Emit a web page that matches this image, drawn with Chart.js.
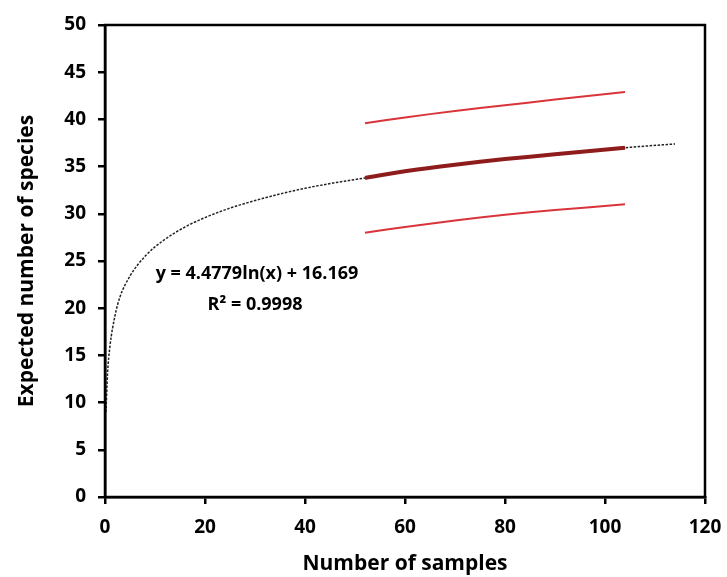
<!DOCTYPE html>
<html>
<head>
<meta charset="utf-8">
<script src="https://cdn.jsdelivr.net/npm/chart.js@4/dist/chart.umd.min.js"></script>
<style>
html,body{margin:0;padding:0;background:#fff;}
#wrap{width:727px;height:577px;position:relative;}
</style>
</head>
<body>
<div id="wrap"><canvas id="c" width="727" height="577"></canvas></div>
<script>
// Trend line (logarithmic fit)
const trendX = [0.2, 0.5, 1, 2, 3, 5, 8, 12, 16, 20, 25, 30, 35, 40, 45, 52, 60, 70, 80, 90, 104, 114];
const trendY = [9.0, 13.0, 16.0, 19.2, 21.2, 23.4, 25.5, 27.3, 28.6, 29.6, 30.6, 31.4, 32.1, 32.7, 33.2, 33.8, 34.5, 35.2, 35.8, 36.3, 37.0, 37.4];

// Extrapolated range (x = 52..104)
const extX = [52, 60, 70, 80, 90, 104];
const upperY = [39.6, 40.2, 40.9, 41.5, 42.1, 42.9];
const meanY  = [33.8, 34.5, 35.2, 35.8, 36.3, 37.0];
const lowerY = [28.0, 28.6, 29.3, 29.9, 30.4, 31.0];

const xTicks = [0, 20, 40, 60, 80, 100, 120];
const yTicks = [0, 5, 10, 15, 20, 25, 30, 35, 40, 45, 50];

const eqText = 'y = 4.4779ln(x) + 16.169';
const r2Text = 'R² = 0.9998';

const pts = (xs, ys) => xs.map((x, i) => ({x: x, y: ys[i]}));

const FONT = '"Open Sans", Lato, sans-serif';

const framePlugin = {
  id: 'frame',
  afterDatasetsDraw(chart) {
    const {ctx, chartArea: a} = chart;
    ctx.save();
    ctx.strokeStyle = '#000';
    ctx.lineWidth = 2.5;
    ctx.strokeRect(a.left, a.top, a.right - a.left, a.bottom - a.top);
    // equation text
    const xs = chart.scales.x, ys = chart.scales.y;
    ctx.fillStyle = '#000';
    ctx.font = 'bold 18px ' + FONT;
    ctx.textAlign = 'center';
    ctx.textBaseline = 'middle';
    ctx.fillText(eqText, xs.getPixelForValue(30.4), ys.getPixelForValue(23.6));
    ctx.fillText(r2Text, xs.getPixelForValue(30.0), ys.getPixelForValue(20.4));
    ctx.restore();
  }
};

new Chart(document.getElementById('c'), {
  type: 'scatter',
  data: {
    datasets: [
      {
        data: pts(extX, upperY), showLine: true, borderColor: '#d9343a', borderWidth: 2,
        pointRadius: 0, fill: false, tension: 0.3
      },
      {
        data: pts(extX, lowerY), showLine: true, borderColor: '#d9343a', borderWidth: 2,
        pointRadius: 0, fill: false, tension: 0.3
      },
      {
        data: pts(extX, meanY), showLine: true, borderColor: '#8e1c1c', borderWidth: 4,
        pointRadius: 0, fill: false, tension: 0.3
      },
      {
        data: pts(trendX, trendY), showLine: true, borderColor: '#222', borderWidth: 1.5,
        borderDash: [2.5, 1.5], pointRadius: 0, fill: false, cubicInterpolationMode: 'monotone'
      }
    ]
  },
  options: {
    responsive: false,
    animation: false,
    devicePixelRatio: 1,
    layout: {padding: {top: 25, right: 22, left: 0, bottom: 0}},
    plugins: {legend: {display: false}, tooltip: {enabled: false}},
    scales: {
      x: {
        type: 'linear', min: 0, max: 120,
        afterBuildTicks: s => { s.ticks = xTicks.map(v => ({value: v})); },
        afterFit: s => { s.height = 80; s.paddingRight = 0; s.paddingLeft = 0; },
        grid: {display: true, drawOnChartArea: false, drawTicks: true, tickLength: 7, color: '#000', lineWidth: 2.5},
        border: {display: true, color: '#000', width: 2.5},
        ticks: {color: '#000', font: {family: FONT, weight: 'bold', size: 19}, padding: 12, maxRotation: 0},
        title: {display: true, text: 'Number of samples', color: '#000', font: {family: FONT, weight: 'bold', size: 21}, padding: {top: 0, bottom: 0}}
      },
      y: {
        type: 'linear', min: 0, max: 50,
        afterBuildTicks: s => { s.ticks = yTicks.map(v => ({value: v})); },
        afterFit: s => { s.width = 105; s.paddingTop = 0; s.paddingBottom = 0; },
        grid: {display: true, drawOnChartArea: false, drawTicks: true, tickLength: 7, color: '#000', lineWidth: 2.5},
        border: {display: true, color: '#000', width: 2.5},
        ticks: {color: '#000', font: {family: FONT, weight: 'bold', size: 19}, padding: 12},
        title: {display: true, text: 'Expected number of species', color: '#000', font: {family: FONT, weight: 'bold', size: 21}, padding: {top: 14, bottom: 0}}
      }
    }
  },
  plugins: [framePlugin]
});
</script>
</body>
</html>
